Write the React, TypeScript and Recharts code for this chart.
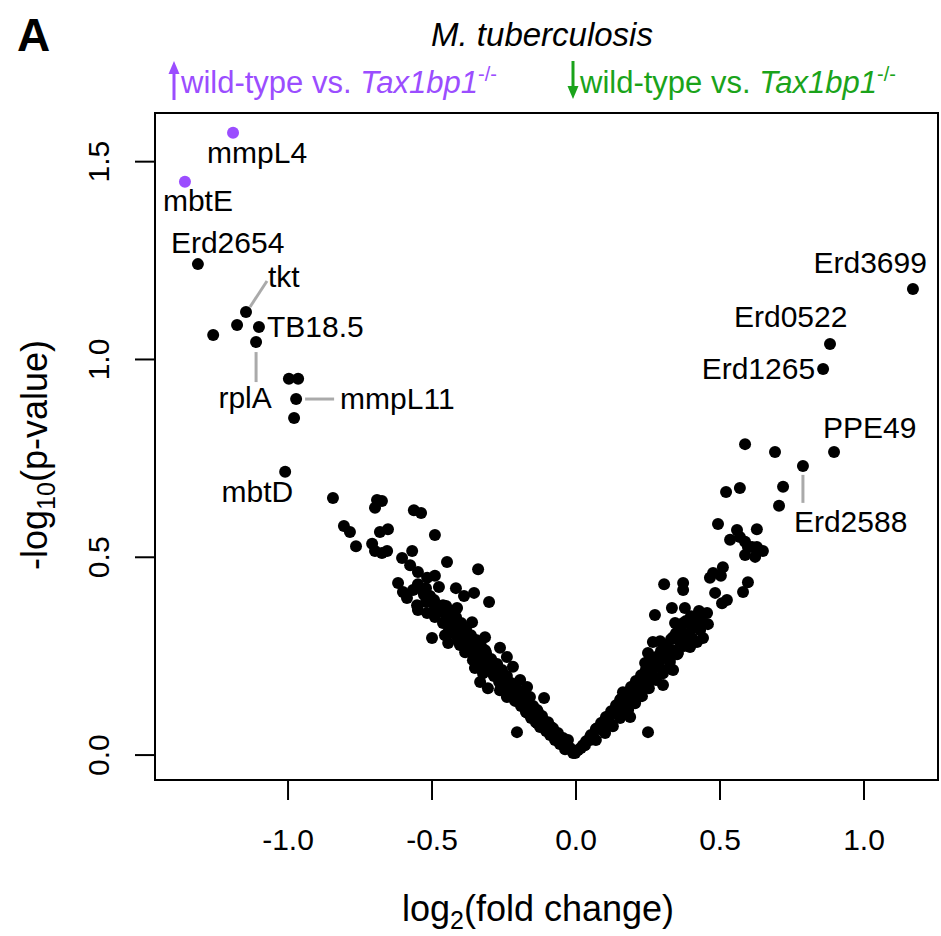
import React from 'react';
import { ScatterChart, Scatter, XAxis, YAxis, ReferenceArea } from 'recharts';

const FONT = '"Liberation Sans", Arial, Helvetica, sans-serif';
const PURPLE = '#9b4dff';
const GREEN = '#1aa31a';
const LEADER = '#aaaaaa';

// axis ranges (R pads the data range by 4%)
const X_MIN = -1.462;
const X_MAX = 1.257;
const Y_MIN = -0.063;
const Y_MAX = 1.623;
const xTicks = [-1, -0.5, 0, 0.5, 1];
const yTicks = [0, 0.5, 1, 1.5];

// significant up in wild-type (purple)
const upNames = ['mmpL4', 'mbtE'];
const upFC = [-1.191, -1.358];
const upP = [1.573, 1.449];

// other labelled genes
const namedGenes = ['Erd2654', 'tkt', 'TB18.5', 'rplA', 'mmpL11', 'mbtD', 'Erd3699', 'Erd0522', 'Erd1265', 'PPE49', 'Erd2588'];
const namedFC = [-1.313, -1.146, -1.101, -1.111, -0.972, -1.010, 1.170, 0.882, 0.858, 0.896, 0.788];
const namedP = [1.241, 1.120, 1.082, 1.044, 0.900, 0.716, 1.178, 1.039, 0.976, 0.766, 0.731];

// remaining genes, negative fold change: [log2FC, -log10 p]
const leftPoints: [number, number][] = [
  [-1.177, 1.087], [-1.260, 1.062], [-0.997, 0.951], [-0.965, 0.951], [-0.979, 0.852],
  [-0.844, 0.650], [-0.691, 0.645], [-0.674, 0.642], [-0.698, 0.625], [-0.563, 0.619], [-0.538, 0.612],
  [-0.806, 0.579], [-0.785, 0.564], [-0.764, 0.528], [-0.681, 0.564], [-0.653, 0.571], [-0.708, 0.534],
  [-0.698, 0.516], [-0.674, 0.511], [-0.656, 0.516], [-0.490, 0.556], [-0.569, 0.516], [-0.604, 0.498],
  [-0.576, 0.480], [-0.448, 0.488], [-0.340, 0.470], [-0.549, 0.463], [-0.618, 0.435], [-0.517, 0.448],
  [-0.490, 0.453], [-0.476, 0.425], [-0.521, 0.422], [-0.601, 0.412], [-0.566, 0.417], [-0.417, 0.422],
  [-0.389, 0.402], [-0.354, 0.410], [-0.302, 0.387], [-0.587, 0.397], [-0.552, 0.379], [-0.528, 0.405],
  [-0.490, 0.374], [-0.462, 0.379], [-0.549, 0.367], [-0.517, 0.359], [-0.413, 0.372], [-0.490, 0.349],
  [-0.448, 0.349], [-0.417, 0.346], [-0.361, 0.336], [-0.462, 0.334], [-0.403, 0.324], [-0.427, 0.308],
  [-0.500, 0.296], [-0.378, 0.308], [-0.316, 0.298], [-0.455, 0.303], [-0.358, 0.291], [-0.444, 0.283],
  [-0.403, 0.278], [-0.316, 0.265], [-0.264, 0.271], [-0.385, 0.260], [-0.358, 0.240], [-0.333, 0.253],
  [-0.240, 0.248], [-0.219, 0.223], [-0.309, 0.235], [-0.351, 0.220], [-0.323, 0.207], [-0.288, 0.207],
  [-0.333, 0.185], [-0.306, 0.169], [-0.264, 0.197], [-0.240, 0.182], [-0.194, 0.190], [-0.170, 0.172],
  [-0.219, 0.164], [-0.264, 0.164], [-0.240, 0.147], [-0.194, 0.139], [-0.160, 0.147], [-0.111, 0.144],
  [-0.170, 0.121], [-0.135, 0.114], [-0.205, 0.058], [-0.149, 0.096], [-0.115, 0.088], [-0.090, 0.071],
  [-0.080, 0.056], [-0.056, 0.046], [-0.031, 0.030], [-0.010, 0.005], [-0.135, 0.081], [-0.101, 0.063],
  [-0.167, 0.106],
  [-0.021, 0.018], [-0.028, 0.038], [-0.038, 0.015], [-0.045, 0.043], [-0.056, 0.028], [-0.063, 0.056],
  [-0.073, 0.038], [-0.080, 0.068], [-0.090, 0.051], [-0.097, 0.083], [-0.104, 0.061], [-0.118, 0.099],
  [-0.125, 0.071], [-0.132, 0.109], [-0.139, 0.083], [-0.149, 0.124], [-0.156, 0.094], [-0.167, 0.139],
  [-0.174, 0.109], [-0.184, 0.149], [-0.191, 0.124], [-0.201, 0.164], [-0.212, 0.137], [-0.222, 0.180],
  [-0.229, 0.154], [-0.240, 0.200], [-0.247, 0.169], [-0.257, 0.215], [-0.267, 0.185], [-0.274, 0.230],
  [-0.285, 0.200], [-0.295, 0.240], [-0.302, 0.215], [-0.313, 0.255], [-0.323, 0.230], [-0.333, 0.271],
  [-0.344, 0.245], [-0.354, 0.281], [-0.365, 0.260], [-0.375, 0.291], [-0.389, 0.276], [-0.399, 0.301],
  [-0.410, 0.291], [-0.420, 0.316], [-0.431, 0.331], [-0.441, 0.316], [-0.451, 0.341], [-0.465, 0.362],
  [-0.479, 0.377], [-0.493, 0.392], [-0.507, 0.402], [-0.521, 0.387], [-0.535, 0.417], [-0.549, 0.432],
  [-0.014, 0.013], [-0.035, 0.028], [-0.052, 0.043], [-0.069, 0.056], [-0.087, 0.071], [-0.104, 0.083],
  [-0.122, 0.096], [-0.139, 0.111], [-0.156, 0.124], [-0.174, 0.139], [-0.191, 0.154], [-0.208, 0.169],
  [-0.226, 0.182], [-0.243, 0.197], [-0.260, 0.212], [-0.278, 0.228], [-0.295, 0.243], [-0.313, 0.260],
  [-0.330, 0.276], [-0.347, 0.291], [-0.365, 0.303], [-0.382, 0.319], [-0.399, 0.334], [-0.417, 0.349],
  [-0.434, 0.364], [-0.451, 0.377],
];

// remaining genes, positive fold change
const rightPoints: [number, number][] = [
  [0.587, 0.786], [0.691, 0.766], [0.521, 0.665], [0.569, 0.675], [0.719, 0.678], [0.705, 0.630],
  [0.493, 0.584], [0.559, 0.569], [0.628, 0.571], [0.535, 0.544], [0.569, 0.551], [0.587, 0.539],
  [0.597, 0.526], [0.628, 0.526], [0.649, 0.516], [0.587, 0.506], [0.622, 0.501], [0.611, 0.526],
  [0.510, 0.475], [0.476, 0.460], [0.465, 0.448], [0.503, 0.453], [0.597, 0.437], [0.580, 0.412],
  [0.483, 0.410], [0.524, 0.392], [0.507, 0.384], [0.306, 0.432], [0.372, 0.435], [0.372, 0.417],
  [0.333, 0.372], [0.378, 0.372], [0.274, 0.354], [0.427, 0.364], [0.455, 0.359], [0.458, 0.331],
  [0.344, 0.334], [0.372, 0.334], [0.420, 0.331], [0.403, 0.321], [0.431, 0.316], [0.354, 0.308],
  [0.337, 0.298], [0.385, 0.298], [0.441, 0.296], [0.420, 0.286], [0.267, 0.286], [0.292, 0.288],
  [0.396, 0.273], [0.316, 0.265], [0.354, 0.258], [0.292, 0.253], [0.250, 0.258], [0.326, 0.245],
  [0.240, 0.233], [0.337, 0.215], [0.281, 0.223], [0.302, 0.207], [0.233, 0.197], [0.267, 0.195],
  [0.302, 0.177], [0.212, 0.177], [0.247, 0.172], [0.194, 0.172], [0.163, 0.159], [0.222, 0.159],
  [0.177, 0.144], [0.153, 0.139], [0.205, 0.131], [0.142, 0.121], [0.177, 0.114], [0.135, 0.106],
  [0.108, 0.096], [0.188, 0.096], [0.118, 0.081], [0.090, 0.081], [0.250, 0.058], [0.073, 0.068],
  [0.094, 0.063], [0.059, 0.051], [0.049, 0.038], [0.024, 0.025], [0.007, 0.013], [-0.003, 0.005],
  [0.031, 0.025], [0.049, 0.046], [0.069, 0.038], [0.083, 0.068], [0.101, 0.056], [0.111, 0.088],
  [0.128, 0.073], [0.142, 0.109], [0.153, 0.094], [0.167, 0.129], [0.181, 0.114], [0.191, 0.147],
  [0.205, 0.134], [0.215, 0.164], [0.229, 0.149], [0.240, 0.185], [0.253, 0.169], [0.264, 0.205],
  [0.278, 0.190], [0.288, 0.225], [0.302, 0.215], [0.313, 0.245], [0.326, 0.235], [0.337, 0.265],
  [0.351, 0.255], [0.361, 0.286], [0.375, 0.276], [0.389, 0.306], [0.403, 0.296], [0.417, 0.326],
  [0.431, 0.341], [0.444, 0.357],
  [0.017, 0.018], [0.035, 0.035], [0.052, 0.051], [0.069, 0.066], [0.087, 0.081], [0.104, 0.096],
  [0.122, 0.111], [0.139, 0.126], [0.156, 0.142], [0.174, 0.157], [0.191, 0.172], [0.208, 0.187],
  [0.226, 0.202], [0.243, 0.217], [0.260, 0.233], [0.278, 0.248], [0.295, 0.263], [0.313, 0.278],
  [0.330, 0.293], [0.347, 0.308], [0.365, 0.324], [0.382, 0.339], [0.399, 0.351],
];

const toRows = (pts: [number, number][]) => pts.map(([x, y]) => ({ x, y }));
const upRows = upNames.map((gene, i) => ({ gene, x: upFC[i], y: upP[i] }));
const namedRows = namedGenes.map((gene, i) => ({ gene, x: namedFC[i], y: namedP[i] }));
const restRows = [...toRows(leftPoints), ...toRows(rightPoints)];

// where each gene label sits relative to its dot (px)
type Place = { dx: number; dy: number; anchor: 'start' | 'middle' | 'end'; line?: [number, number, number, number] };
const LABEL_POS: Record<string, Place> = {
  mmpL4: { dx: -26, dy: 30, anchor: 'start' },
  mbtE: { dx: -22, dy: 29, anchor: 'start' },
  Erd2654: { dx: -27, dy: -11, anchor: 'start' },
  tkt: { dx: 22, dy: -25, anchor: 'start', line: [4, -5, 21, -31] },
  'TB18.5': { dx: 8, dy: 10, anchor: 'start' },
  rplA: { dx: -11, dy: 66, anchor: 'middle', line: [0, 10, 0, 40] },
  mmpL11: { dx: 44, dy: 10, anchor: 'start', line: [9, 0, 38, 0] },
  mbtD: { dx: 8, dy: 30, anchor: 'end' },
  Erd3699: { dx: 14, dy: -16, anchor: 'end' },
  Erd0522: { dx: -96, dy: -17, anchor: 'start' },
  Erd1265: { dx: -8, dy: 10, anchor: 'end' },
  PPE49: { dx: -11, dy: -14, anchor: 'start' },
  Erd2588: { dx: -9, dy: 66, anchor: 'start', line: [0, 9, 0, 37] },
};

const R = 6;

const Dot = (props: any) => <circle cx={props.cx} cy={props.cy} r={R} fill={props.fill} />;

const GeneDot = (props: any) => {
  const { cx, cy, fill, payload } = props;
  const p = LABEL_POS[payload.gene];
  return (
    <g>
      {p.line && (
        <line x1={cx + p.line[0]} y1={cy + p.line[1]} x2={cx + p.line[2]} y2={cy + p.line[3]} stroke={LEADER} strokeWidth={3} />
      )}
      <circle cx={cx} cy={cy} r={R} fill={fill} />
      <text x={cx + p.dx} y={cy + p.dy} textAnchor={p.anchor} fontSize={30} fontFamily={FONT} fill="#000">
        {payload.gene}
      </text>
    </g>
  );
};

const XTick = ({ x, y, payload }: any) => (
  <text x={x} y={y + 48} textAnchor="middle" fontSize={30} fontFamily={FONT} fill="#000">
    {Number(payload.value).toFixed(1)}
  </text>
);

const YTick = ({ x, y, payload }: any) => (
  <text transform={`translate(${x - 24},${y}) rotate(-90)`} textAnchor="middle" fontSize={30} fontFamily={FONT} fill="#000">
    {Number(payload.value).toFixed(1)}
  </text>
);

export default function App() {
  return (
    <div style={{ position: 'absolute', left: 0, top: 0, width: 941, height: 936, background: '#fff' }}>
      <ScatterChart width={941} height={936} margin={{ top: 113, right: 3, bottom: 0, left: 0 }}>
        <XAxis
          type="number"
          dataKey="x"
          domain={[X_MIN, X_MAX]}
          ticks={xTicks}
          allowDataOverflow
          axisLine={false}
          tickSize={20}
          tickLine={{ stroke: '#000', strokeWidth: 2 }}
          tick={<XTick />}
          height={156}
        />
        <YAxis
          type="number"
          dataKey="y"
          domain={[Y_MIN, Y_MAX]}
          ticks={yTicks}
          allowDataOverflow
          axisLine={false}
          tickSize={20}
          tickLine={{ stroke: '#000', strokeWidth: 2 }}
          tick={<YTick />}
          width={155}
        />
        <ReferenceArea x1={X_MIN} x2={X_MAX} y1={Y_MIN} y2={Y_MAX} fill="none" stroke="#000" strokeWidth={2} />
        <Scatter data={restRows} fill="#000" shape={<Dot />} isAnimationActive={false} />
        <Scatter data={namedRows} fill="#000" shape={<GeneDot />} isAnimationActive={false} />
        <Scatter data={upRows} fill={PURPLE} shape={<GeneDot />} isAnimationActive={false} />
      </ScatterChart>

      <svg width={941} height={936} style={{ position: 'absolute', left: 0, top: 0, pointerEvents: 'none' }} fontFamily={FONT}>
        <text x={17} y={51} fontSize={46} fontWeight="bold">A</text>
        <text x={542} y={46} fontSize={33} fontStyle="italic" textAnchor="middle">M. tuberculosis</text>

        <line x1={174} y1={100} x2={174} y2={72} stroke={PURPLE} strokeWidth={3} />
        <polygon points="174,61 168.5,74 179.5,74" fill={PURPLE} />
        <text x={181} y={93} fontSize={31} fill={PURPLE}>
          wild-type vs. <tspan fontStyle="italic">Tax1bp1</tspan>
          <tspan fontSize={20} dy={-12}>-/-</tspan>
        </text>

        <line x1={573} y1={61} x2={573} y2={88} stroke={GREEN} strokeWidth={3} />
        <polygon points="573,99 567.5,86 578.5,86" fill={GREEN} />
        <text x={580} y={93} fontSize={31} fill={GREEN}>
          wild-type vs. <tspan fontStyle="italic">Tax1bp1</tspan>
          <tspan fontSize={20} dy={-12}>-/-</tspan>
        </text>

        <text x={538} y={921} fontSize={36} textAnchor="middle">
          log<tspan fontSize={25} dy={8}>2</tspan>
          <tspan dy={-8}>(fold change)</tspan>
        </text>
        <text transform="translate(47,455) rotate(-90)" fontSize={36} textAnchor="middle">
          -log<tspan fontSize={25} dy={8}>10</tspan>
          <tspan dy={-8}>(p-value)</tspan>
        </text>
      </svg>
    </div>
  );
}
